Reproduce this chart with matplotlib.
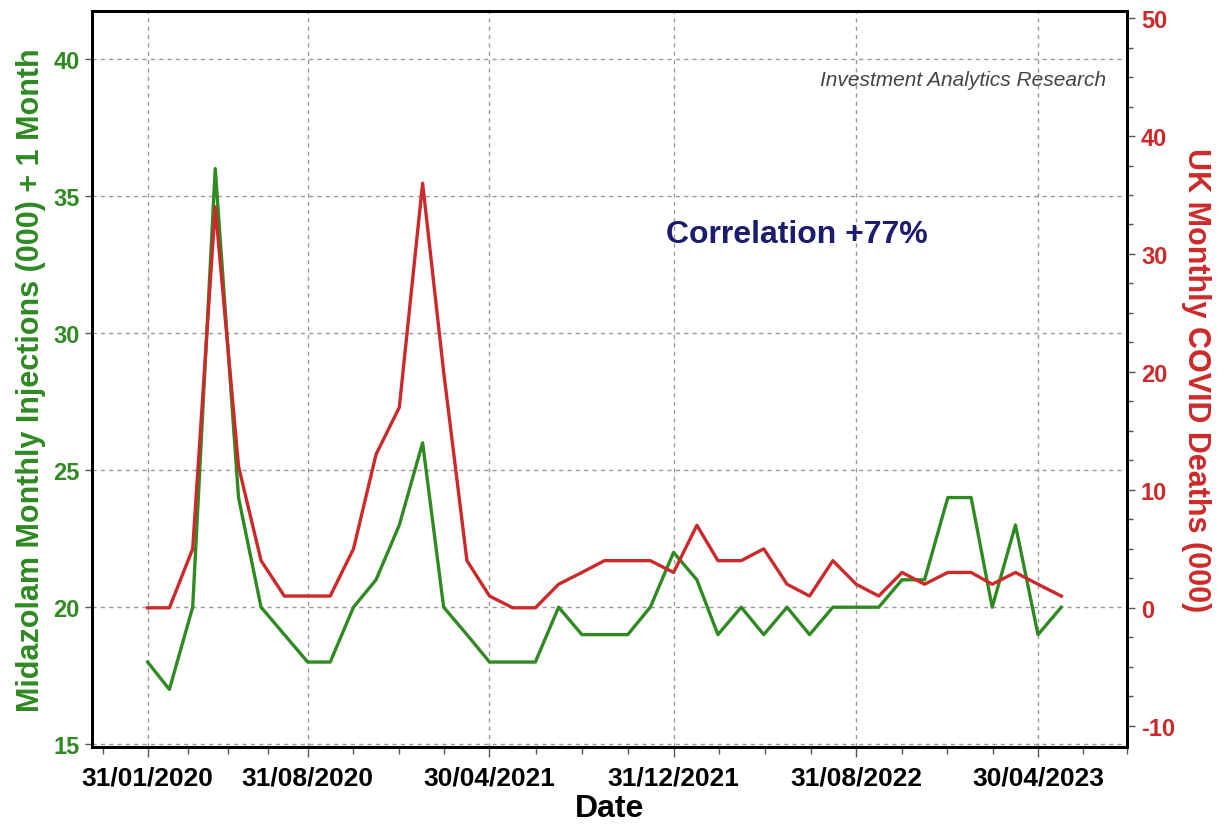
import matplotlib
matplotlib.use("Agg")
import matplotlib.pyplot as plt
import matplotlib.dates as mdates
import numpy as np
import pandas as pd

plt.rcParams["axes.unicode_minus"] = False

# monthly data, Jan 2020 - May 2023
months = pd.date_range("2020-01-31", periods=41, freq="ME")
midazolam = [18, 17, 20, 36, 24, 20, 19, 18, 18, 20, 21, 23,
             26, 20, 19, 18, 18, 18, 20, 19, 19, 19, 20, 22,
             21, 19, 20, 19, 20, 19, 20, 20, 20, 21, 21, 24,
             24, 20, 23, 19, 20]
deaths = [0, 0, 5, 34, 12, 4, 1, 1, 1, 5, 13, 17,
          36, 20, 4, 1, 0, 0, 2, 3, 4, 4, 4, 3,
          7, 4, 4, 5, 2, 1, 4, 2, 1, 3, 2, 3,
          3, 2, 3, 2, 1]
tick_dates = ["2020-01-31", "2020-08-31", "2021-04-30",
              "2021-12-31", "2022-08-31", "2023-04-30"]

green = "#2f8a22"
red = "#cc2a2a"
font = ["Liberation Sans", "DejaVu Sans"]

fig = plt.figure(figsize=(12.3, 8.28), dpi=100)
ax = fig.add_axes([0.0748, 0.0966, 0.8415, 0.8889])
ax2 = ax.twinx()

ax.plot(months, midazolam, color=green, lw=2.4, zorder=3)
ax2.plot(months, deaths, color=red, lw=2.4, zorder=3)

ax.set_ylim(14.9, 41.75)
ax2.set_ylim(-11.8, 50.6)
ax.set_xlim(pd.Timestamp("2019-11-18"), pd.Timestamp("2023-08-21"))

ticks = pd.to_datetime(tick_dates)
ax.set_xticks(ticks)
ax.set_xticklabels([t.strftime("%d/%m/%Y") for t in ticks])
tnum = mdates.date2num(ticks)
minor = []
for a, b in zip(tnum[:-1], tnum[1:]):
    minor += list(np.linspace(a, b, 5)[1:-1])
step = np.mean(np.diff(tnum)) / 4
minor += [tnum[0] - step, tnum[-1] + step, tnum[-1] + 2 * step]
ax.set_xticks(minor, minor=True)

ax.set_yticks([15, 20, 25, 30, 35, 40])
ax2.set_yticks([-10, 0, 10, 20, 30, 40, 50])
ax2.set_yticks(np.arange(-10, 50.1, 2.5), minor=True)

ax.grid(True, which="major", color="#999999", ls=(0, (3, 3)), lw=1)
ax.set_axisbelow(True)

for lab in ax.get_xticklabels():
    lab.set_family(font)
    lab.set_fontweight("bold")
    lab.set_fontsize(19)
for lab in ax.get_yticklabels():
    lab.set_family(font)
    lab.set_fontweight("bold")
    lab.set_fontsize(17)
    lab.set_color(green)
for lab in ax2.get_yticklabels():
    lab.set_family(font)
    lab.set_fontweight("bold")
    lab.set_fontsize(17)
    lab.set_color(red)

ax.tick_params(axis="x", which="major", length=7, width=1, color="#555555", pad=6)
ax.tick_params(axis="x", which="minor", length=5, width=1, color="#555555")
ax.tick_params(axis="y", length=5, width=1, color="#555555", pad=4)
ax2.tick_params(axis="y", which="major", length=6, width=1, color="#555555", pad=4)
ax2.tick_params(axis="y", which="minor", length=4, width=1, color="#555555")

for s in ax.spines.values():
    s.set_linewidth(2)
for s in ax2.spines.values():
    s.set_linewidth(2)

ax.set_xlabel("Date", family=font, fontweight="bold", fontsize=23, labelpad=3)
ax.set_ylabel("Midazolam Monthly Injections (000) + 1 Month", family=font,
              fontweight="bold", fontsize=22, color=green, labelpad=5)
ax2.set_ylabel("UK Monthly COVID Deaths (000)", family=font, fontweight="bold",
               fontsize=22, color=red, rotation=270, labelpad=26)

ax.text(0.98, 0.9076, "Investment Analytics Research", transform=ax.transAxes,
        ha="right", va="center", style="italic", family=font, fontsize=15,
        color="#444444")
ax.text(0.681, 0.697, "Correlation +77%", transform=ax.transAxes, ha="center",
        va="center", fontweight="bold", family=font, fontsize=23, color="#1c1c6e")

fig.savefig("out.png", dpi=100)
